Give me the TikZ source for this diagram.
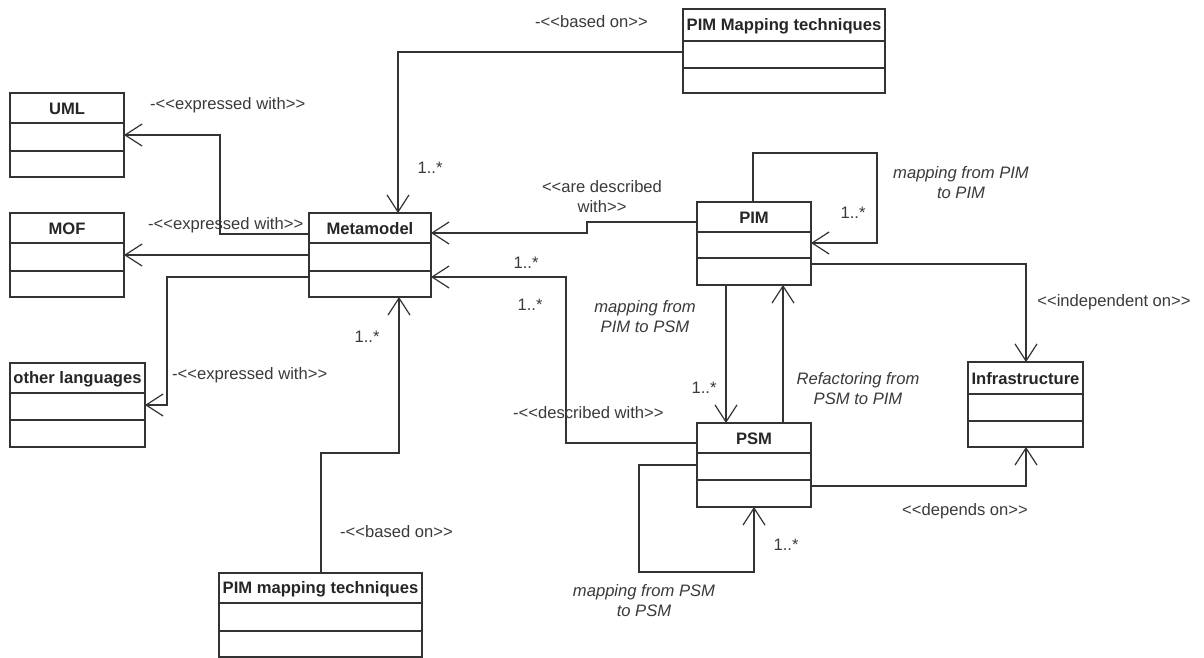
\documentclass[tikz,border=0pt]{standalone}
\usepackage{fontspec}
\setmainfont{Liberation Sans}
\usetikzlibrary{arrows.meta,fit}
\definecolor{ln}{HTML}{333333}
\definecolor{tx}{HTML}{3A3A3A}
\newcommand\lgl{<{}<}
\newcommand\rgr{>{}>}
\tikzset{
  boxline/.style={draw=ln, line width=1.3bp, inner sep=0pt, outer sep=0pt},
  divline/.style={draw=ln, line width=1.3bp},
  clstitle/.style={font=\fontsize{16.6bp}{19bp}\selectfont\bfseries, text=black!85, inner sep=0pt},
  conn/.style={draw=ln, line width=1.2bp, -{Straight Barb[length=17bp,width=22bp]}},
  lbl/.style={font=\fontsize{16.6bp}{20bp}\selectfont, text=tx, inner sep=0pt, align=center},
  ilbl/.style={lbl, font=\fontsize{16.6bp}{20bp}\selectfont\itshape},
}
\newcommand\umlcls[8]{%
  \path (#2,#3) coordinate (#1-nw) (#4,#5) coordinate (#1-se);
  \node[boxline, fit=(#1-nw)(#1-se)] (#1) {};
  \draw[divline] (#1.west |- 0,#6) -- (#1.east |- 0,#6);
  \draw[divline] (#1.west |- 0,#7) -- (#1.east |- 0,#7);
  \node[clstitle] (#1-title) at ({(#2+#4)/2},{(#3+#6)/2+1}) {#8};
}
\begin{document}
\begin{tikzpicture}[x=1bp,y=-1bp]
\useasboundingbox[fill=white] (0,0) rectangle (1204,658);
% classes
\umlcls{uml}{10}{93}{124}{177}{123}{151}{UML}
\umlcls{mof}{10}{213}{124}{297}{243}{271}{MOF}
\umlcls{meta}{309}{213}{431}{297}{243}{271}{Metamodel}
\umlcls{other}{10}{363}{145}{447}{393}{420}{other languages}
\umlcls{pimtop}{683}{9}{885}{93}{41}{68}{PIM Mapping techniques}
\umlcls{pim}{697}{202}{811}{285}{232}{258}{PIM}
\umlcls{infra}{968}{362}{1083}{447}{394}{421}{Infrastructure}
\umlcls{psm}{697}{423}{811}{507}{453}{480}{PSM}
\umlcls{pimbot}{219}{573}{422}{657}{603}{631}{PIM mapping techniques}
% connectors
\draw[conn] (meta.west |- 0,234) -| (220,135) -- (uml.east |- 0,135);
\draw[conn] (meta.west |- 0,255) -- (mof.east |- 0,255);
\draw[conn] (meta.west |- 0,277) -| (167,405) -- (other.east |- 0,405);
\draw[conn] (pimtop.west |- 0,52) -| (meta.north -| 398,0);
\draw[conn] (pim.west |- 0,222) -- (587,222) -- (587,233) -- (meta.east |- 0,233);
\draw[conn] (psm.west |- 0,443) -| (566,277) -- (meta.east |- 0,277);
\draw[conn] (pim.south -| 726,0) -- (psm.north -| 726,0);
\draw[conn] (psm.north -| 783,0) -- (pim.south -| 783,0);
\draw[conn] (pim.north -| 753,0) |- (877,153) |- (pim.east |- 0,243);
\draw[conn] (pim.east |- 0,264) -| (infra.north -| 1026,0);
\draw[conn] (psm.east |- 0,486) -| (infra.south -| 1026,0);
\draw[conn] (psm.west |- 0,465) -| (639,572) -| (psm.south -| 754,0);
\draw[conn] (pimbot.north -| 321,0) |- (399,453) -- (meta.south -| 399,0);
% labels
\node[lbl, anchor=west] (l1) at (150,105) {-\lgl expressed with\rgr};
\node[lbl, anchor=west] (l2) at (148,225) {-\lgl expressed with\rgr};
\node[lbl, anchor=west] (l3) at (172,375) {-\lgl expressed with\rgr};
\node[lbl, anchor=west] (l4) at (535,22) {-\lgl based on\rgr};
\node[lbl] (m1) at (430,168) {1..*};
\node[lbl] (l5) at (602,197) {\lgl are described\\with\rgr};
\node[lbl] (m2) at (526,263) {1..*};
\node[lbl] (m3) at (530,305) {1..*};
\node[ilbl] (l6) at (645,317) {mapping from\\PIM to PSM};
\node[lbl] (m4) at (704,388) {1..*};
\node[ilbl] (l7) at (858,389) {Refactoring from\\PSM to PIM};
\node[lbl] (m5) at (853,213) {1..*};
\node[ilbl] (l8) at (961,183) {mapping from PIM\\to PIM};
\node[lbl] (l9) at (1114,302) {\lgl independent on\rgr};
\node[lbl] (l10) at (965,511) {\lgl depends on\rgr};
\node[lbl, anchor=west] (l11) at (513,413) {-\lgl described with\rgr};
\node[lbl] (m6) at (786,545) {1..*};
\node[ilbl] (l12) at (644,601) {mapping from PSM\\to PSM};
\node[lbl] (m7) at (367,337) {1..*};
\node[lbl, anchor=west] (l13) at (340,532) {-\lgl based on\rgr};
\end{tikzpicture}
\end{document}
